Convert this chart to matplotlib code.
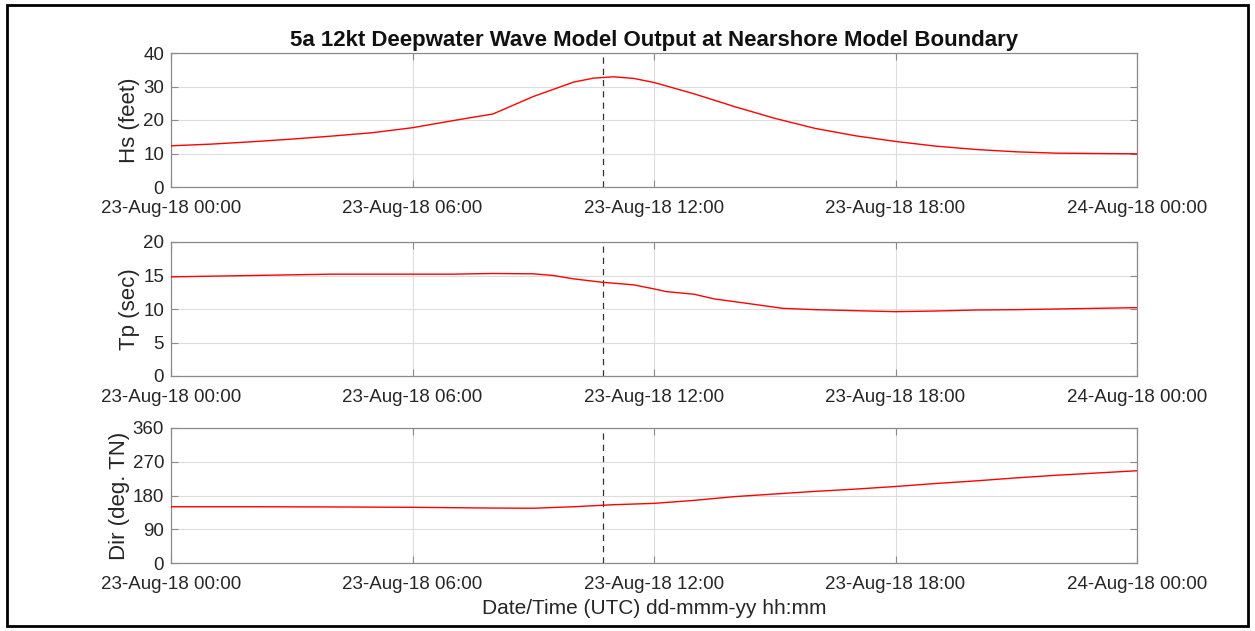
import matplotlib
matplotlib.use("Agg")
import matplotlib.pyplot as plt
import matplotlib.dates as mdates
from matplotlib.patches import Rectangle
from datetime import datetime, timedelta

plt.rcParams['font.family'] = ['Liberation Sans', 'DejaVu Sans']

# ---- data (hours after 23-Aug-18 00:00 UTC) ----
hs_hours = [0, 1, 2, 3, 4, 5, 6, 7, 8, 9, 10, 10.5, 11, 11.5, 12, 13, 14, 15, 16, 17, 18, 19, 20, 21, 22, 23, 24]
hs_feet = [12.3, 12.8, 13.5, 14.3, 15.2, 16.2, 17.7, 19.8, 21.8, 27.0, 31.3, 32.5, 32.9, 32.4, 31.2, 27.8, 24.0,
           20.5, 17.5, 15.3, 13.6, 12.2, 11.2, 10.5, 10.1, 10.0, 9.9]

tp_hours = [0, 1, 2, 3, 4, 5, 6, 7, 8, 9, 9.5, 10, 10.7, 11.5, 12, 12.3, 13, 13.5, 14, 14.6, 15.2, 16, 17, 18,
            19, 20, 21, 22, 23, 24]
tp_sec = [14.8, 14.9, 15.0, 15.1, 15.2, 15.2, 15.2, 15.2, 15.3, 15.25, 15.0, 14.5, 14.0, 13.6, 13.0, 12.6, 12.2,
          11.5, 11.1, 10.6, 10.1, 9.9, 9.75, 9.6, 9.7, 9.85, 9.9, 10.0, 10.1, 10.2]

dir_hours = [0, 2, 4, 6, 8, 9, 10, 11, 12, 13, 14, 15, 16, 17, 18, 19, 20, 21, 22, 23, 24]
dir_deg = [150, 150, 149.5, 148.5, 146.5, 146, 150, 155.5, 159, 167, 177, 184, 191, 197, 204, 212, 219, 227,
           234, 240, 246]

marker_hour = 10.73  # dashed vertical reference line

panel_ylabels = ['Hs (feet)', 'Tp (sec)', 'Dir (deg. TN)']
panel_ylims = [(0, 40), (0, 20), (0, 360)]
panel_yticks = [[0, 10, 20, 30, 40], [0, 5, 10, 15, 20], [0, 90, 180, 270, 360]]
xtick_hours = [0, 6, 12, 18, 24]

title = '5a 12kt Deepwater Wave Model Output at Nearshore Model Boundary'
xlabel = 'Date/Time (UTC) dd-mmm-yy hh:mm'

t0 = datetime(2018, 8, 23, 0, 0)
def to_dt(hours):
    return [t0 + timedelta(hours=h) for h in hours]

series = [(to_dt(hs_hours), hs_feet), (to_dt(tp_hours), tp_sec), (to_dt(dir_hours), dir_deg)]

W, H = 1255, 631
fig = plt.figure(figsize=(W / 100, H / 100), dpi=100)
fig.patch.set_facecolor('white')

rows = [(53, 187), (242, 376), (428, 563)]
left_px, right_px = 171, 1137

tick_color = '#262626'
spine_color = '#8a8a8a'
axes_list = []
for i, (top, bot) in enumerate(rows):
    ax = fig.add_axes([left_px / W, 1 - bot / H, (right_px - left_px) / W, (bot - top) / H])
    x, y = series[i]
    ax.plot(x, y, color='#ff0000', lw=1.0, zorder=3)
    ax.axvline(t0 + timedelta(hours=marker_hour), color='#333333', lw=0.9, ls=(0, (5, 4)), zorder=2)
    ax.set_xlim(t0, t0 + timedelta(hours=24))
    ax.set_ylim(*panel_ylims[i])
    ax.set_yticks(panel_yticks[i])
    ax.set_xticks(to_dt(xtick_hours))
    ax.xaxis.set_major_formatter(mdates.DateFormatter('%d-%b-%y %H:%M'))
    ax.grid(True, color='#dddddd', lw=0.8, ls='-', zorder=0)
    ax.tick_params(direction='in', length=5, width=0.8, top=True, right=True,
                   labelsize=13.5, colors=spine_color, labelcolor=tick_color)
    ax.tick_params(axis='x', pad=9.5)
    ax.tick_params(axis='y', pad=5)
    for s in ax.spines.values():
        s.set_color(spine_color)
        s.set_linewidth(0.9)
    ax.set_ylabel(panel_ylabels[i], fontsize=16, color=tick_color, labelpad=2)
    axes_list.append(ax)

axes_list[0].set_title(title, fontsize=16, fontweight='bold', color='#111111', pad=5)
axes_list[2].set_xlabel(xlabel, fontsize=15, color=tick_color, labelpad=4.5)

# outer frame
fig.add_artist(Rectangle((7 / W, 1 - 626 / H), (1248 - 7) / W, (626 - 5) / H,
                         transform=fig.transFigure, fill=False, edgecolor='black', lw=2))

fig.savefig('out.png', dpi=100)
